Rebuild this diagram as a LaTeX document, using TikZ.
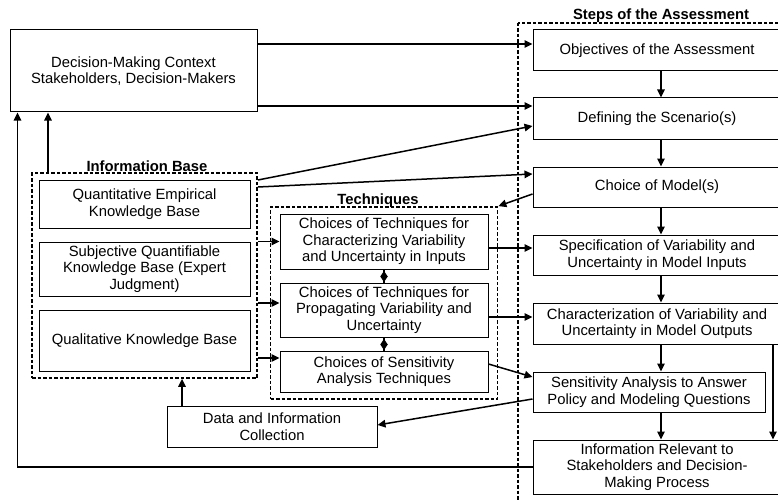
\documentclass[tikz,border=0pt]{standalone}
\usepackage{xcolor}
\usepackage{fontspec}
\setmainfont{Liberation Sans}
\usepackage{tikz}
\usetikzlibrary{arrows.meta,positioning,fit,decorations.markings}

\begin{document}
\begin{tikzpicture}[
        x=1pt, y=-1pt,
        font=\fontsize{14.8pt}{16.5pt}\selectfont,
        block/.style={draw=black, line width=1pt, rectangle, inner sep=0pt, align=center},
        groupbox/.style={draw=black, line width=1.8pt, dash pattern=on 3.5pt off 2pt, rectangle, inner sep=0pt},
        grouptitle/.style={anchor=base, font=\fontsize{14.8pt}{16.5pt}\selectfont\bfseries},
        arrow/.style={line width=1.5pt, -{Triangle[length=8pt, width=7.5pt]}},
        diamondlink/.style={line width=1.3pt, postaction={decorate}, decoration={markings, mark=at position 12.5pt with {\arrow{Diamond[length=11pt, width=7.5pt]}}}}
    ]
        \path[use as bounding box, clip] (0,0) rectangle (778,500);

        % Decision context
        \node[block, minimum width=247pt, minimum height=82pt] (dm) at (133.5, 71) {Decision-Making Context\\Stakeholders, Decision-Makers};

        % Steps of the Assessment
        \draw[groupbox] (518, 23) rectangle (800, 520);
        \node[grouptitle] (stepstitle) at (661, 20) {Steps of the Assessment};
        \node[block, minimum width=248pt, minimum height=41pt] (obj) at (657, 50.5) {Objectives of the Assessment};
        \node[block, minimum width=248pt, minimum height=41pt] (scen) at (657, 118.5) {Defining the Scenario(s)};
        \node[block, minimum width=248pt, minimum height=40pt] (model) at (657, 187) {Choice of Model(s)};
        \node[block, minimum width=248pt, minimum height=40pt] (spec) at (657, 255) {Specification of Variability and\\Uncertainty in Model Inputs};
        \node[block, minimum width=248pt, minimum height=41pt] (charz) at (657, 323.5) {Characterization of Variability and\\Uncertainty in Model Outputs};
        \node[block, minimum width=232pt, minimum height=40pt] (sens) at (649, 392) {Sensitivity Analysis to Answer\\Policy and Modeling Questions};
        \node[block, minimum width=248pt, minimum height=54pt] (info) at (657, 467) {Information Relevant to\\Stakeholders and Decision-\\Making Process};

        % Information Base
        \node[block, minimum width=211pt, minimum height=48pt] (qeb) at (144.5, 204) {Quantitative Empirical\\Knowledge Base};
        \node[block, minimum width=211pt, minimum height=54pt] (subj) at (144.5, 269) {Subjective Quantifiable\\Knowledge Base (Expert\\Judgment)};
        \node[block, minimum width=211pt, minimum height=61pt] (qual) at (144.5, 340.5) {Qualitative Knowledge Base};
        \node[groupbox, fit=(qeb)(subj)(qual), inner sep=6.5pt] (ib) {};
        \node[grouptitle] (ibtitle) at (147, 171) {Information Base};

        % Techniques
        \node[block, minimum width=208pt, minimum height=55pt] (t1) at (384, 241.5) {Choices of Techniques for\\Characterizing Variability\\and Uncertainty in Inputs};
        \node[block, minimum width=208pt, minimum height=54pt] (t2) at (384, 310) {Choices of Techniques for\\Propagating Variability and\\Uncertainty};
        \node[block, minimum width=208pt, minimum height=41pt] (t3) at (384, 371.5) {Choices of Sensitivity\\Analysis Techniques};
        \node[groupbox, fit=(t1)(t2)(t3), inner xsep=9pt, inner ysep=6.5pt] (tech) {};
        \node[grouptitle] (techtitle) at (378, 204) {Techniques};

        % Data collection
        \node[block, minimum width=210pt, minimum height=41pt] (data) at (272, 426.5) {Data and Information\\Collection};

        % Flows - Decision context
        \draw[arrow] (dm.east |- 0,44) -- (obj.west |- 0,44);
        \draw[arrow] (dm.east |- 0,106) -- (scen.west |- 0,106);

        % Flows - Steps
        \draw[arrow] ([xshift=4pt]obj.south) -- ([xshift=4pt]scen.north);
        \draw[arrow] ([xshift=4pt]scen.south) -- ([xshift=4pt]model.north);
        \draw[arrow] ([xshift=4pt]model.south) -- ([xshift=4pt]spec.north);
        \draw[arrow] ([xshift=4pt]spec.south) -- ([xshift=4pt]charz.north);
        \draw[arrow] ([xshift=4pt]charz.south) -- (sens.north -| 661,0);
        \draw[arrow] (sens.south -| 661,0) -- ([xshift=4pt]info.north);
        \draw[arrow] ([xshift=116pt]charz.south) -- ([xshift=116pt]info.north);

        % Flows - Information Base
        \draw[arrow] (ib.east |- 0,180) -- (scen.west |- 0,126);
        \draw[arrow] (ib.east |- 0,187) -- (model.west |- 0,174);
        \draw[arrow] (ib.east |- t1.west) -- (t1.west);
        \draw[arrow] (ib.east |- 0,303) -- (t2.west |- 0,303);
        \draw[arrow] (ib.east |- 0,358) -- (t3.west |- 0,358);
        \draw[arrow] (ib.north -| 48,0) -- (dm.south -| 48,0);

        % Flows - Techniques
        \draw[arrow] (model.west |- 0,194) -- (tech.north east);
        \draw[arrow] (t1.east |- 0,248) -- (spec.west |- 0,248);
        \draw[arrow] (t2.east |- 0,317) -- (charz.west |- 0,317);
        \draw[arrow] (t3.east |- 0,364) -- (sens.west |- 0,377);
        \draw[diamondlink] (t1.south) -- (t2.north);
        \draw[diamondlink] (t2.south) -- (t3.north);

        % Feedback
        \draw[arrow] (sens.west |- 0,399) -- (data.east |- 0,425);
        \draw[arrow] (data.north -| 182,0) -- (ib.south -| 182,0);
        \draw[arrow] (info.west) -| ([xshift=8pt]dm.south west);
    \end{tikzpicture}
\end{document}
